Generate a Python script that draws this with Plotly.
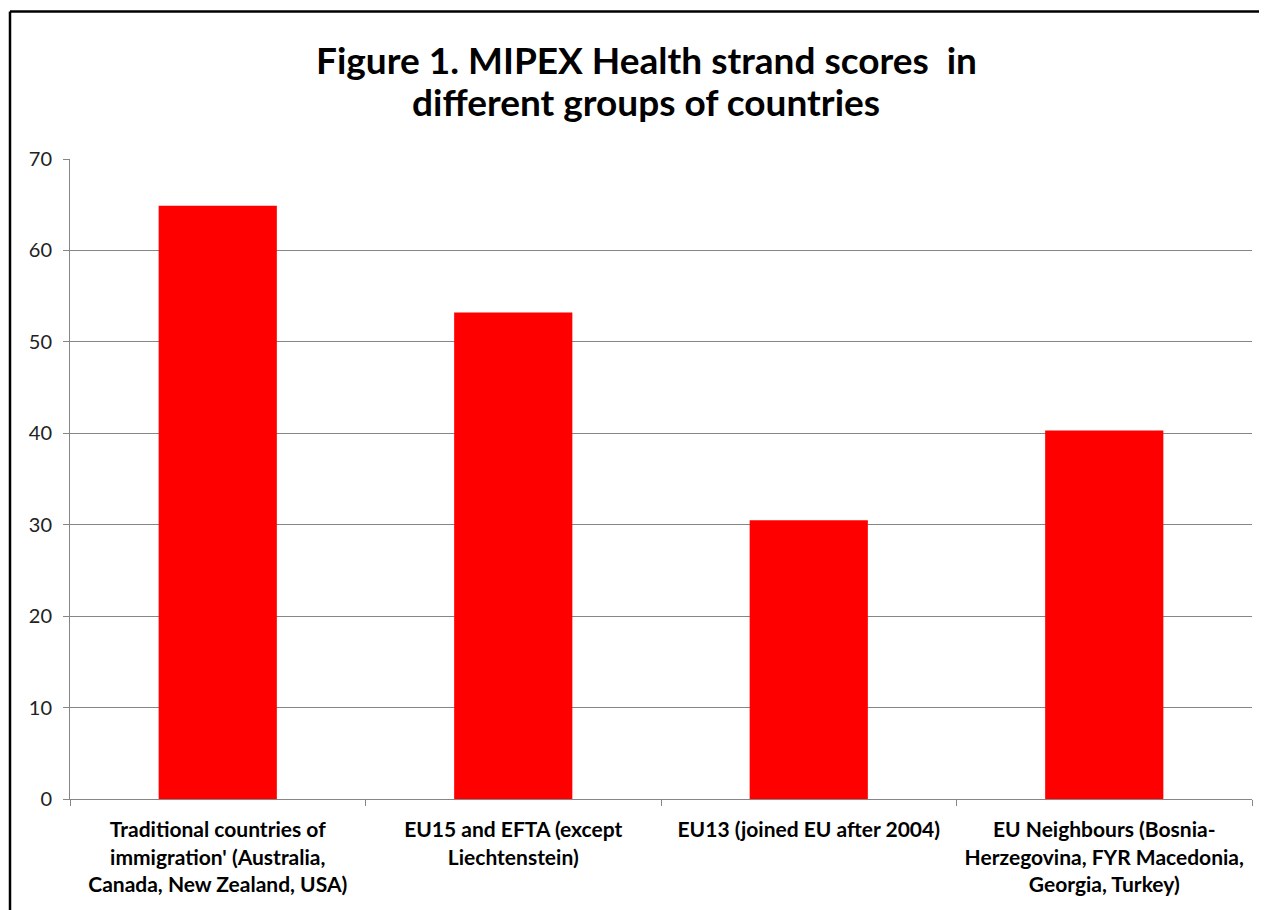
import plotly.graph_objects as go

categories = [
    "Traditional countries of<br>immigration' (Australia,<br>Canada, New Zealand, USA)",
    "EU15 and EFTA (except<br>Liechtenstein)",
    "EU13 (joined EU after 2004)",
    "EU Neighbours (Bosnia-<br>Herzegovina, FYR Macedonia,<br>Georgia, Turkey)",
]
scores = [64.9, 53.2, 30.5, 40.3]
y_ticks = [0, 10, 20, 30, 40, 50, 60, 70]
title_lines = ["Figure 1. MIPEX Health strand scores  in", "different groups of countries"]

# page body has an 8px margin; figure sized so it fills the 1267x910 window
OFF = 8
W, H = 1267 - OFF, 910 - OFF
ml, mr, mt, mb = 70 - OFF, 15, 159 - OFF, 111
pw, ph = W - ml - mr, H - mt - mb

FONT = "Lato, Open Sans, sans-serif"

fig = go.Figure(go.Bar(
    x=categories, y=scores,
    marker=dict(color="#FF0000", line=dict(width=0)),
    width=0.4,
))

fig.update_layout(
    width=W, height=H,
    margin=dict(l=ml, r=mr, t=mt, b=mb, autoexpand=False),
    paper_bgcolor="white", plot_bgcolor="white",
    showlegend=False,
    font=dict(family=FONT),
)

# two-line title as annotations for tighter line spacing
tx = (646 - OFF - ml) / pw
for line, ypage in zip(title_lines, [59, 101]):
    fig.add_annotation(
        text=f"<b>{line}</b>", showarrow=False,
        xref="paper", yref="paper",
        x=tx, xanchor="center",
        y=1 + (mt - (ypage - OFF)) / ph, yanchor="middle",
        font=dict(family=FONT, size=37, color="black"),
    )

fig.update_xaxes(
    tickson="boundaries", ticks="outside", ticklen=6, tickcolor="#868686",
    showline=True, linecolor="#868686", linewidth=1,
    showgrid=False,
    tickfont=dict(family=FONT, size=21, color="black", weight="bold"),
    tickangle=0, ticklabelstandoff=12,
)
fig.update_yaxes(
    range=[0, 70], tickvals=y_ticks,
    ticks="outside", ticklen=6, tickcolor="#868686",
    showline=True, linecolor="#868686", linewidth=1,
    showgrid=True, gridcolor="#868686", gridwidth=1,
    tickfont=dict(family=FONT, size=20, color="#222222"),
    zeroline=False, ticklabelstandoff=7,
)

# outer chart frame (top and left edges visible)
fx = (10 - OFF - ml) / pw
fy = 1 + (mt - (11.5 - OFF)) / ph
fig.add_shape(type="line", xref="paper", yref="paper",
              x0=fx, x1=(W - ml) / pw, y0=fy, y1=fy,
              line=dict(color="black", width=2.5))
fig.add_shape(type="line", xref="paper", yref="paper",
              x0=fx, x1=fx, y0=fy, y1=-(mb + 5) / ph,
              line=dict(color="black", width=2.5))

fig.write_html("out.html", config={"displayModeBar": False},
               post_script="document.body.style.overflow='hidden';")
